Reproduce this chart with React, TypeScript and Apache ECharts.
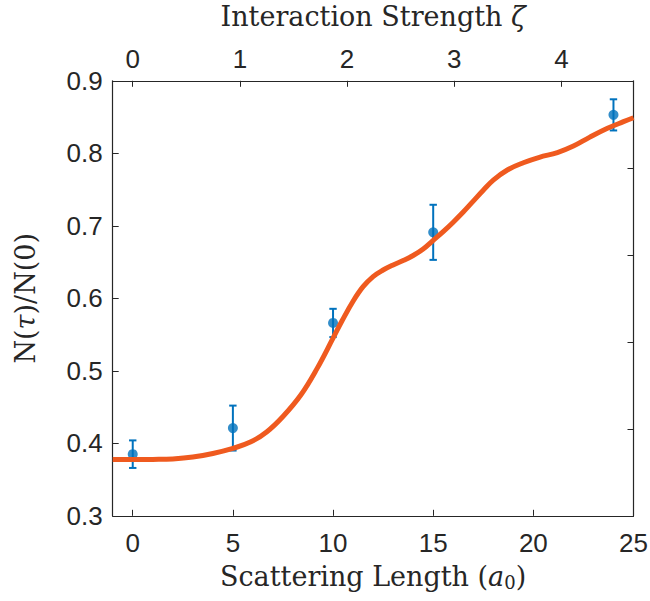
import React, { useEffect, useRef } from "react";
import * as echarts from "echarts";

// Measured data (scattering length in a0, N(tau)/N(0), error)
const pointX = [0, 5, 10, 15, 24];
const pointY = [0.385, 0.421, 0.566, 0.691, 0.853];
const pointErr = [0.019, 0.031, 0.0195, 0.038, 0.0215];

// Theory curve
const curveX = [-1, 0, 1, 2, 3, 4, 5, 5.9, 6.7, 7.5, 8.4, 9.2, 10, 10.45, 11, 11.5, 12, 12.5, 13, 13.5, 14, 14.5, 15, 15.5, 16, 16.5, 17, 17.5, 18, 18.7, 19.5, 20.3, 21.2, 22, 22.8, 23.7, 24.5, 25];
const curveY = [0.3775, 0.3775, 0.3778, 0.3785, 0.381, 0.386, 0.393, 0.402, 0.416, 0.437, 0.467, 0.503, 0.545, 0.569, 0.596, 0.616, 0.63, 0.639, 0.646, 0.652, 0.659, 0.668, 0.68, 0.692, 0.705, 0.719, 0.734, 0.749, 0.763, 0.777, 0.787, 0.7945, 0.801, 0.81, 0.822, 0.8345, 0.8436, 0.849];

// Tick labels
const bottomTicks = [0, 5, 10, 15, 20, 25];
const topTicks = [0, 1, 2, 3, 4];
const leftTicks = [0.3, 0.4, 0.5, 0.6, 0.7, 0.8, 0.9];
const rightTicks = [0, 0.2, 0.4, 0.6, 0.8, 1];

const ZETA_SCALE = 5.35; // a0 per unit of zeta

const AXIS_COLOR = "#262626";
const BLUE = "#0072BD";
const ORANGE = "#EF5A1F";
const SANS = "'Liberation Sans', Arial, Helvetica, sans-serif";
const SERIF = "'DejaVu Serif', 'Liberation Serif', serif";

export default function App() {
  const ref = useRef<HTMLDivElement>(null);
  useEffect(() => {
    if (!ref.current) return;
    const chart = echarts.init(ref.current, undefined, { renderer: "svg" });
    const tickStyle = { show: true, inside: true, length: 6, lineStyle: { color: AXIS_COLOR, width: 1 } };
    const lineStyle = { show: true, lineStyle: { color: AXIS_COLOR, width: 1.2 } };
    const labelFont = { fontFamily: SANS, fontSize: 26, color: AXIS_COLOR };
    const titleFont = { fontFamily: SERIF, fontSize: 27, color: AXIS_COLOR };
    const rich = {
      i: { fontFamily: SERIF, fontSize: 27, fontStyle: "italic", color: AXIS_COLOR },
      s: { fontFamily: SERIF, fontSize: 18, color: AXIS_COLOR, padding: [12, 0, 0, 0] },
    };
    const option: any = {
      animation: false,
      grid: {
        left: 112.7,
        right: 16.5,
        top: 80.8,
        bottom: 85.2,
        containLabel: false,
        outerBoundsMode: "none",
      },
      xAxis: [
        {
          type: "value",
          position: "bottom",
          min: -1,
          max: 25,
          axisLine: { ...lineStyle, onZero: false },
          axisTick: { ...tickStyle, customValues: bottomTicks },
          axisLabel: { ...labelFont, margin: 14, customValues: bottomTicks, formatter: (v: number) => String(v) },
          splitLine: { show: false },
          name: "Scattering Length ({i|a}{s|0})",
          nameLocation: "middle",
          nameGap: 46,
          nameTextStyle: { ...titleFont, rich },
        },
        {
          type: "value",
          position: "top",
          min: -1 / ZETA_SCALE,
          max: 25 / ZETA_SCALE,
          axisLine: { ...lineStyle, onZero: false },
          axisTick: { ...tickStyle, customValues: topTicks },
          axisLabel: { ...labelFont, margin: 9, customValues: topTicks, formatter: (v: number) => String(v) },
          splitLine: { show: false },
          name: "Interaction Strength {i|ζ}",
          nameLocation: "middle",
          nameGap: 51,
          nameTextStyle: { ...titleFont, rich },
        },
      ],
      yAxis: [
        {
          type: "value",
          position: "left",
          min: 0.3,
          max: 0.9,
          axisLine: { ...lineStyle, onZero: false },
          axisTick: { ...tickStyle, customValues: leftTicks },
          axisLabel: { ...labelFont, margin: 10, customValues: leftTicks, formatter: (v: number) => v.toFixed(1) },
          splitLine: { show: false },
          name: "N({i|τ})/N(0)",
          nameLocation: "middle",
          nameGap: 74,
          nameTextStyle: { ...titleFont, rich },
        },
        {
          type: "value",
          position: "right",
          min: 0,
          max: 1,
          axisLine: { ...lineStyle, onZero: false },
          axisTick: { ...tickStyle, customValues: rightTicks },
          axisLabel: { show: false },
          splitLine: { show: false },
        },
      ],
      series: [
        {
          type: "custom",
          xAxisIndex: 0,
          yAxisIndex: 0,
          z: 2,
          data: pointX.map((x, i) => [x, pointY[i], pointErr[i]]),
          renderItem: (params: any, api: any) => {
            const x = api.value(0);
            const y = api.value(1);
            const e = api.value(2);
            const top = api.coord([x, y + e]);
            const bot = api.coord([x, y - e]);
            const hw = 3.7;
            const st = { stroke: BLUE, lineWidth: 2 };
            return {
              type: "group",
              children: [
                { type: "line", shape: { x1: top[0], y1: top[1], x2: bot[0], y2: bot[1] }, style: st },
                { type: "line", shape: { x1: top[0] - hw, y1: top[1], x2: top[0] + hw, y2: top[1] }, style: st },
                { type: "line", shape: { x1: bot[0] - hw, y1: bot[1], x2: bot[0] + hw, y2: bot[1] }, style: st },
              ],
            };
          },
        },
        {
          type: "scatter",
          xAxisIndex: 0,
          yAxisIndex: 0,
          z: 2,
          symbolSize: 10,
          itemStyle: { color: BLUE },
          data: pointX.map((x, i) => [x, pointY[i]]),
        },
        {
          type: "line",
          xAxisIndex: 0,
          yAxisIndex: 0,
          z: 3,
          smooth: 0.4,
          showSymbol: false,
          lineStyle: { color: ORANGE, width: 5 },
          data: curveX.map((x, i) => [x, curveY[i]]),
        },
      ],
    };
    chart.setOption(option);
    return () => chart.dispose();
  }, []);
  return (
    <div
      ref={ref}
      style={{ position: "fixed", left: 0, top: 0, width: 650, height: 601, background: "#fff" }}
    />
  );
}
